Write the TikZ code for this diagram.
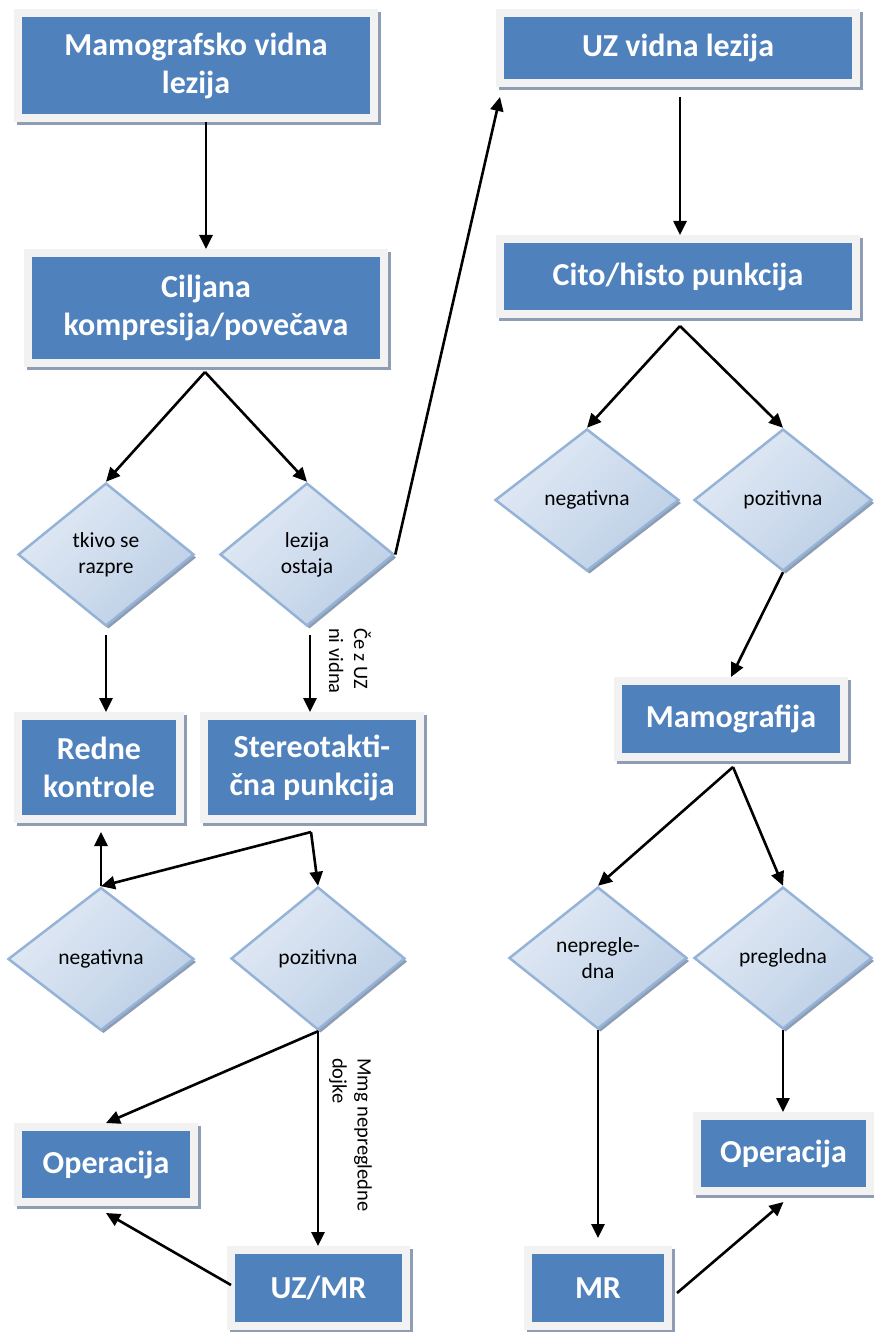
\documentclass[tikz,border=0pt]{standalone}
\usepackage{fontspec}
\setmainfont{Carlito}
\usetikzlibrary{shapes.geometric,arrows.meta,calc}
\definecolor{boxblue}{HTML}{4F81BD}
\definecolor{boxframe}{HTML}{F2F2F2}
\definecolor{shadowc}{HTML}{8E9DB3}
\definecolor{dialight}{HTML}{E2EAF5}
\definecolor{diadark}{HTML}{BCCFE6}
\definecolor{diaborder}{HTML}{95B3D7}
\begin{document}
\begin{tikzpicture}[x=1pt,y=-1pt,
  box/.style={rectangle, fill=boxblue, draw=boxframe, line width=8pt, text=white,
    font=\fontsize{32}{38}\selectfont\bfseries, align=center, inner sep=0pt,
    preaction={fill=shadowc, draw=shadowc, line width=8pt, transform canvas={xshift=3pt, yshift=-3pt}}},
  dia/.style={diamond, draw=diaborder, line width=2.5pt, top color=dialight, bottom color=diadark, shading angle=45,
    inner sep=0pt, font=\fontsize{21.5}{26}\selectfont, align=center, text=black,
    preaction={fill=shadowc, transform canvas={xshift=2.5pt, yshift=-3pt}}},
  arr/.style={-{Triangle[length=14pt,width=13pt]}, line width=2.6pt},
  lbl/.style={rotate=-90, font=\fontsize{20.5}{25}\selectfont, align=left, inner sep=0pt, anchor=north west}]
\useasboundingbox (0,0) rectangle (874,1332);

% boxes
\node[box, minimum width=356pt, minimum height=105pt] (b1) at (196,65.5) {Mamografsko vidna\\lezija};
\node[box, minimum width=356pt, minimum height=70pt] (uz) at (678,48) {UZ vidna lezija};
\node[box, minimum width=356pt, minimum height=110pt] (b2) at (206,308) {Ciljana\\kompresija/povečava};
\node[box, minimum width=356pt, minimum height=75pt] (cito) at (678,276.5) {Cito/histo punkcija};
\node[box, minimum width=162pt, minimum height=103pt] (redne) at (99,767.5) {Redne\\kontrole};
\node[box, minimum width=216pt, minimum height=103pt] (stereo) at (312,767.5) {Stereotakti-\\čna punkcija};
\node[box, minimum width=226pt, minimum height=76pt] (mamo) at (731,719) {Mamografija};
\node[box, minimum width=176pt, minimum height=75pt] (op1) at (106,1164.5) {Operacija};
\node[box, minimum width=175pt, minimum height=76pt] (uzmr) at (318.5,1288) {UZ/MR};
\node[box, minimum width=173pt, minimum height=75pt] (op2) at (783.5,1153.5) {Operacija};
\node[box, minimum width=140pt, minimum height=76pt] (mr) at (598,1288) {MR};

% diamonds
\node[dia, minimum width=176pt, minimum height=143pt] (d1) at (106,554.5) {tkivo se\\razpre};
\node[dia, minimum width=174pt, minimum height=143pt] (d2) at (307,554.5) {lezija\\ostaja};
\node[dia, minimum width=184pt, minimum height=142pt] (d3) at (587,500) {negativna};
\node[dia, minimum width=178pt, minimum height=142pt] (d4) at (783,500) {pozitivna};
\node[dia, minimum width=186pt, minimum height=143pt] (d5) at (101,959) {negativna};
\node[dia, minimum width=174pt, minimum height=143pt] (d6) at (318,958.5) {pozitivna};
\node[dia, minimum width=178pt, minimum height=142pt] (d7) at (598,958) {nepregle-\\dna};
\node[dia, minimum width=178pt, minimum height=142pt] (d8) at (783,958) {pregledna};

% labels
\node[lbl] (l1) at (371,628) {Če z UZ\\ni vidna};
\node[lbl] (l2) at (372,1058) {Mmg nepregledne\\dojke};

% helper coordinates
\coordinate (uzin) at ($(uz.south west)+(4,10)$);
\coordinate (sp) at ($(stereo.south)+(-1,9)$);

% connectors
\draw[arr] (b1.south -| b2.north) -- (b2.north);
\draw[arr] ($(b2.south)+(-1,5)$) -- (d1.north);
\draw[arr] ($(b2.south)+(-1,5)$) -- (d2.north);
\draw[arr, shorten <=8pt] (d1.south) -- (d1.south |- redne.north);
\draw[arr, shorten <=8pt] ($(d2.south)+(3,0)$) -- ($(d2.south |- stereo.north)+(3,0)$);
\draw[arr] (d2.east) -- (uzin);
\draw[arr, shorten <=10pt] ($(uz.south)+(2,0)$) -- ($(cito.north)+(2,0)$);
\draw[arr] ($(cito.south)+(2,8)$) -- (d3.north);
\draw[arr] ($(cito.south)+(2,8)$) -- (d4.north);
\draw[arr] (d4.south) -- (mamo.north);
\draw[arr] ($(mamo.south)+(2,6)$) -- (d7.north);
\draw[arr] ($(mamo.south)+(2,6)$) -- (d8.north);
\draw[arr, shorten >=8pt] (d7.south) -- (d7.south |- mr.north);
\draw[arr] (d8.south) -- (d8.south |- op2.north);
\draw[arr] ($(mr.east)+(5,5)$) -- ($(op2.south)+(0,7)$);
\draw[arr] (sp) -- (d5.north);
\draw[arr] (sp) -- (d6.north);
\draw[arr] (d5.north) -- ($(d5.north |- redne.south)+(0,9)$);
\draw[arr] (d6.south) -- (op1.north);
\draw[arr] (d6.south) -- (d6.south |- uzmr.north);
\draw[arr] ($(uzmr.west)+(4,-3)$) -- ($(op1.south)+(0,7)$);
\end{tikzpicture}
\end{document}
